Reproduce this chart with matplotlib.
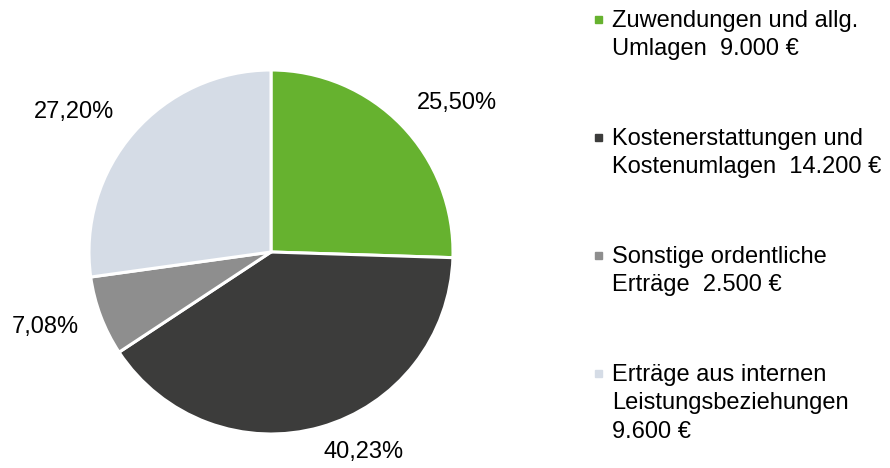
import numpy as np
import matplotlib.pyplot as plt
from matplotlib.patches import Rectangle

plt.rcParams['font.family'] = ['Liberation Sans', 'DejaVu Sans']

# data
names = ["Zuwendungen und allg.\nUmlagen  9.000 €",
         "Kostenerstattungen und\nKostenumlagen  14.200 €",
         "Sonstige ordentliche\nErträge  2.500 €",
         "Erträge aus internen\nLeistungsbeziehungen\n9.600 €"]
values = [9000, 14200, 2500, 9600]
colors = ["#66b22f", "#3c3c3b", "#8e8e8e", "#d5dce6"]

# label spots relative to pie (unit radius)
label_pos = [(1.02, 0.82), (0.51, -1.10), (-1.24, -0.41), (-1.08, 0.77)]

W, H = 890, 468
cx, cy, r = 271, 252, 182   # pie center / radius in px
fs = 17

fig = plt.figure(figsize=(W / 100, H / 100), dpi=100)
ax = fig.add_axes([0, 0, 1, 1])

wedges, _ = ax.pie(values, colors=colors, startangle=90, counterclock=False,
                   radius=1.0, wedgeprops=dict(edgecolor='white', linewidth=2.2))
ax.set_aspect('auto')
ax.set_xlim(-cx / r, (W - cx) / r)
ax.set_ylim(-(H - cy) / r, cy / r)
ax.axis('off')

total = sum(values)
for v, (lx, ly) in zip(values, label_pos):
    pct = f"{100 * v / total:.2f}%".replace('.', ',')
    ax.text(lx, ly, pct, ha='center', va='center', fontsize=fs)

# legend drawn by hand
first_base = [27, 145, 263, 381]
line_h = 28.5
for name, col, b in zip(names, colors, first_base):
    fig.patches.append(Rectangle((595 / W, 1 - (b - 4) / H), 7 / W, 7 / H,
                                 transform=fig.transFigure, color=col))
    for j, line in enumerate(name.split('\n')):
        fig.text(612 / W, 1 - (b + j * line_h) / H, line, fontsize=fs,
                 ha='left', va='baseline')

fig.savefig("out.png", dpi=100)
